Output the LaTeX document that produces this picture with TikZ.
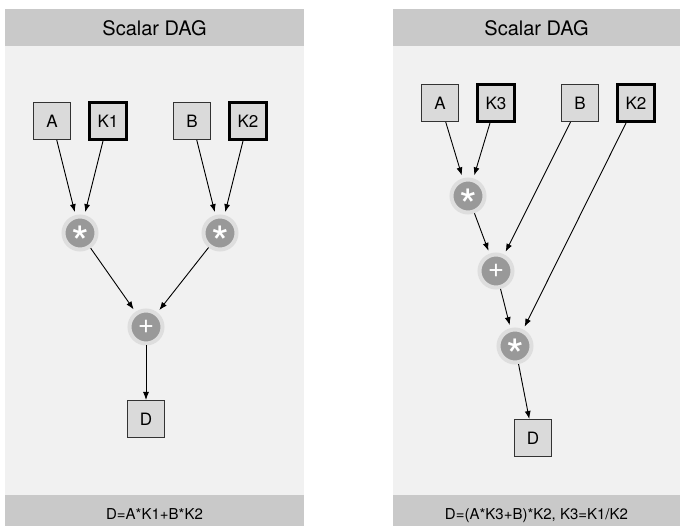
\documentclass[tikz,border=0pt]{standalone}
\usepackage{fontspec}
\setmainfont{TeX Gyre Heros}
\usetikzlibrary{arrows.meta}
\definecolor{barGray}{HTML}{C9C9C9}
\definecolor{paneGray}{HTML}{F1F1F1}
\definecolor{boxGray}{HTML}{DADADA}
\definecolor{opGray}{HTML}{999999}
\definecolor{ringGray}{HTML}{DEDEDE}
% operator glyphs, lowered so they sit on the node centre
\newcommand{\mulsym}{\fontsize{46}{46}\selectfont\raisebox{-0.58em}{*}}
\newcommand{\addsym}{\fontsize{28}{28}\selectfont\raisebox{-0.25em}{+}}

\begin{document}
\begin{tikzpicture}[x=1pt,y=-1pt,
  var/.style={draw=black!80,line width=1pt,fill=boxGray,minimum size=37pt,inner sep=0pt,font=\fontsize{17}{17}\selectfont},
  const/.style={var,draw=black,line width=3pt},
  op/.style={circle,fill=opGray,draw=ringGray,line width=4pt,minimum size=33pt,inner sep=0pt,text=white,text height=0pt,text depth=0pt},
  edge/.style={-{Latex[length=8pt,width=6pt]},line width=0.9pt,shorten >=3pt},
  bar/.style={anchor=base,font=\fontsize{20}{20}\selectfont},
  foot/.style={anchor=base,font=\fontsize{15}{15}\selectfont}]
\useasboundingbox (0,0) rectangle (680,526);
\fill[white] (0,0) rectangle (680,526);

% left panel
\begin{scope}
\fill[paneGray] (5,46) rectangle (304,495);
\fill[barGray] (5,9) rectangle (304,46);
\fill[barGray] (5,495) rectangle (304,526);
\node[bar] (lTitle) at (154.5,36) {Scalar DAG};
\node[foot] (lFoot) at (154.5,519) {D=A*K1+B*K2};
\node[var] (lA) at (52,121) {A};
\node[const] (lK1) at (108,121) {K1};
\node[var] (lB) at (192,121) {B};
\node[const] (lK2) at (248,121) {K2};
\node[op] (lMul1) at (80,233) {\mulsym};
\node[op] (lMul2) at (220,233) {\mulsym};
\node[op] (lAdd) at (146,327) {\addsym};
\node[var] (lD) at (146,419) {D};
\draw[edge] (lA) -- (lMul1);
\draw[edge] (lK1) -- (lMul1);
\draw[edge] (lB) -- (lMul2);
\draw[edge] (lK2) -- (lMul2);
\draw[edge] (lMul1) -- (lAdd);
\draw[edge] (lMul2) -- (lAdd);
\draw[edge,shorten >=0pt] (lAdd) -- (lD);
\end{scope}

% right panel
\begin{scope}
\fill[paneGray] (393,46) rectangle (680,495);
\fill[barGray] (393,9) rectangle (680,46);
\fill[barGray] (393,495) rectangle (680,526);
\node[bar] (rTitle) at (536.5,36) {Scalar DAG};
\node[foot] (rFoot) at (536.5,519) {D=(A*K3+B)*K2, K3=K1/K2};
\node[var] (rA) at (440,103) {A};
\node[const] (rK3) at (496,103) {K3};
\node[var] (rB) at (580,103) {B};
\node[const] (rK2) at (636,103) {K2};
\node[op] (rMul1) at (468,196) {\mulsym};
\node[op] (rAdd) at (496,271) {\addsym};
\node[op] (rMul2) at (515,346) {\mulsym};
\node[var] (rD) at (533,438) {D};
\draw[edge] (rA) -- (rMul1);
\draw[edge] (rK3) -- (rMul1);
\draw[edge] (rMul1) -- (rAdd);
\draw[edge] (rB) -- (rAdd);
\draw[edge] (rAdd) -- (rMul2);
\draw[edge] (rK2) -- (rMul2);
\draw[edge,shorten >=0pt] (rMul2) -- (rD);
\end{scope}
\end{tikzpicture}
\end{document}
